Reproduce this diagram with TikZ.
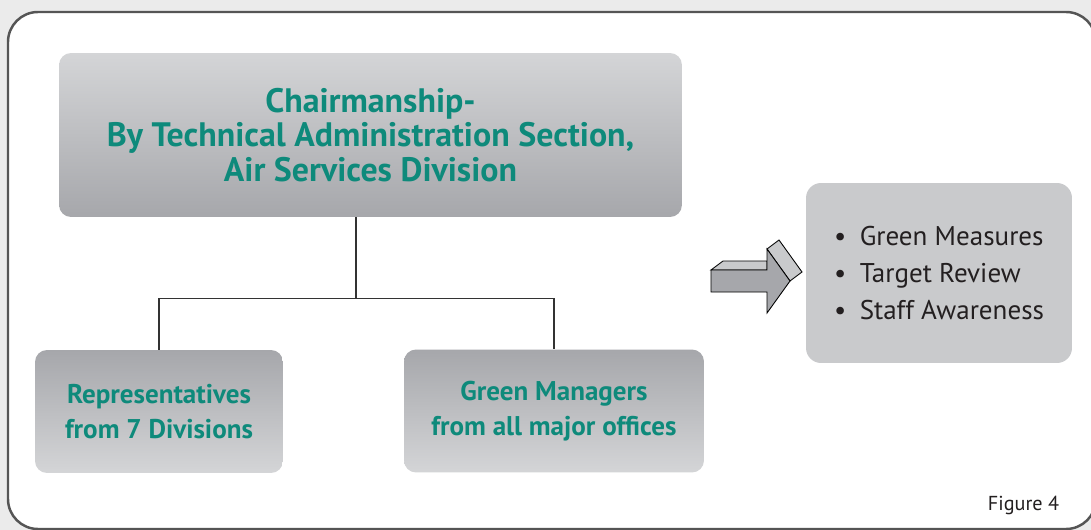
\documentclass[tikz,border=0pt]{standalone}
\usepackage{fontspec}
\setmainfont{PT Sans}
\usepackage{tikz}
\usetikzlibrary{positioning,calc}
\usepackage{xcolor}

\definecolor{pagegray}{HTML}{EBEBEB}
\definecolor{framegray}{HTML}{555555}
\definecolor{boxlight}{HTML}{D4D5D7}
\definecolor{boxdark}{HTML}{A6A7AB}
\definecolor{flatgray}{HTML}{C9CACC}
\definecolor{teal}{HTML}{0E8A7B}
\definecolor{inkgray}{HTML}{231F20}

\begin{document}
\begin{tikzpicture}[x=0.02cm,y=-0.02cm,
    chairbox/.style={rounded corners=0.24cm,top color=boxlight,bottom color=boxdark,minimum width=12.46cm,minimum height=3.28cm,align=center,text=teal,font=\fontsize{19.3}{19.6}\selectfont\bfseries},
    memberbox/.style={rounded corners=0.24cm,top color=boxdark,bottom color=boxlight,minimum height=2.46cm,align=center,text=teal,font=\fontsize{15.4}{20}\selectfont\bfseries},
    taskbox/.style={rounded corners=0.3cm,fill=flatgray,minimum width=5.32cm,minimum height=3.6cm,align=left,text=inkgray,font=\fontsize{15.4}{21.3}\selectfont},
    link/.style={draw=black!80,line width=0.6pt}
  ]
    % page and frame
    \useasboundingbox (0,0) rectangle (1091,530);
    \fill[pagegray] (0,0) rectangle (1091,530);
    \draw[framegray,line width=1.4pt,fill=white,rounded corners=0.6cm] (8,12) rectangle (1096,529);

    % committee boxes
    \node[chairbox] (chair) at (370.5,135) {Chairmanship-\\By Technical Administration Section,\\Air Services Division};
    \node[memberbox,minimum width=4.96cm] (reps) at (159,411.5) {Representatives\\from 7 Divisions};
    \node[memberbox,minimum width=6.0cm] (mgrs) at (554,411) {Green Managers\\from all major offices};

    % tree connector
    \coordinate (split) at (356,298.5);
    \draw[link] (chair.south -| split) -- (split);
    \draw[link] (reps.north) |- (split) -| (mgrs.north);

    % block arrow
    \fill[flatgray,draw=black,line width=0.5pt,line join=miter] (711,270) -- (723,261) -- (767,261) -- (767,270) -- cycle;
    \fill[flatgray,draw=black,line width=0.5pt,line join=miter] (767,249) -- (779,240) -- (802,272) -- (790,281) -- cycle;
    \fill[boxdark,draw=black,line width=0.5pt,line join=miter] (711,270) -- (767,270) -- (767,249) -- (790,281) -- (767,313) -- (767,292) -- (711,292) -- cycle;

    % tasks
    \node[taskbox] (tasks) at (939,273) {•\enspace Green Measures\\•\enspace Target Review\\•\enspace Staff Awareness};

    \node[font=\fontsize{11.5}{13}\selectfont,text=inkgray] (fig) at (1023.5,505) {Figure 4};
\end{tikzpicture}
\end{document}
